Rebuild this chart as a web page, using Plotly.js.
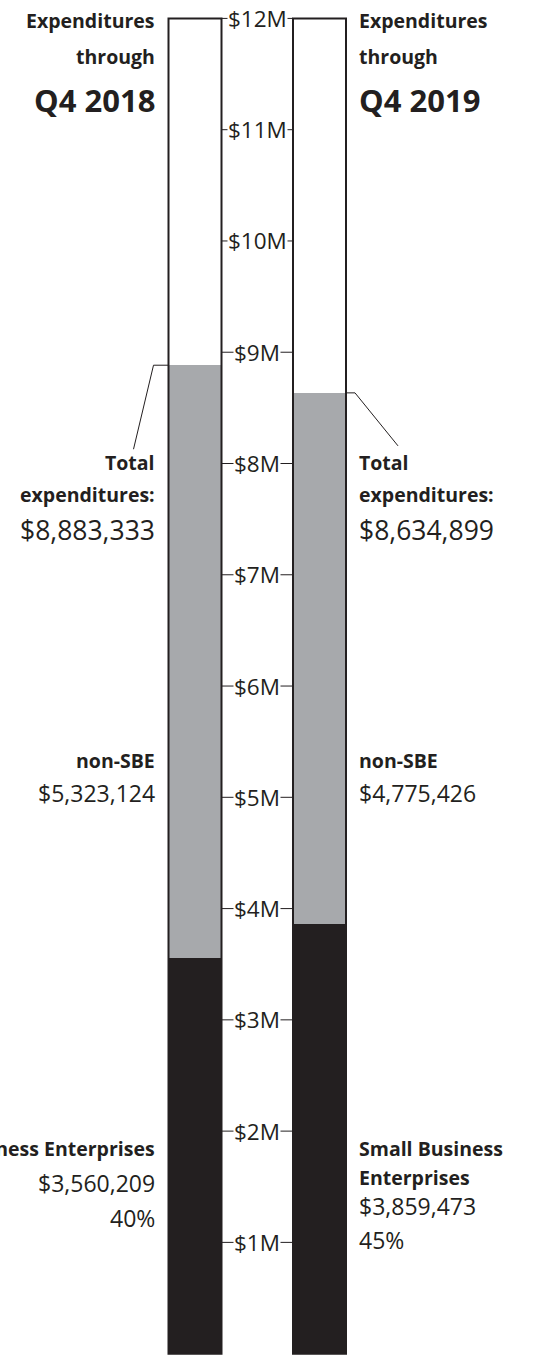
<!DOCTYPE html>
<html><head><meta charset="utf-8">
<script src="https://cdn.plot.ly/plotly-3.0.1.min.js"></script>
<style>html,body{margin:0;padding:0;background:#fff}#chart{width:545px;height:1357px}</style>
</head><body><div id="chart"></div>
<script>
// ---- data ----
const periods = ["Q4 2018", "Q4 2019"];
const sbeValues = [3560209, 3859473];
const nonSbeValues = [5323124, 4775426];
const totalValues = [8883333, 8634899];
const sbeShares = ["40%", "45%"];
const tickValues = [1, 2, 3, 4, 5, 6, 7, 8, 9, 10, 11, 12];
const tickLabels = ["$1M", "$2M", "$3M", "$4M", "$5M", "$6M", "$7M", "$8M", "$9M", "$10M", "$11M", "$12M"];

// ---- layout helpers ----
const W = 545, H = 1357;
const INK = "#231f20", GRAY = "#a7a9ac";
const FONT = "'Open Sans', 'Noto Sans', sans-serif";
const pxPerUnitX = 124.5, centerPx = 195;
const pxPerM = 111.27, yMin = -0.03, yMax = yMin + H / pxPerM;
const bw = 53 / pxPerUnitX;
const xs = periods.map((p, i) => i);
const M = v => v / 1e6;
const fmt = v => "$" + v.toLocaleString("en-US");
const px = x => x / W;
const py = y => 1 - y / H;
const axisTop = tickValues[tickValues.length - 1];

const traces = [
  {type: "bar", x: xs, y: sbeValues.map(M), width: bw, marker: {color: INK, line: {width: 0}}, hoverinfo: "skip"},
  {type: "bar", x: xs, y: nonSbeValues.map(M), width: bw, marker: {color: GRAY, line: {width: 0}}, hoverinfo: "skip"}
];

const shapes = [];
// gridlines between the two columns
tickValues.forEach(v => shapes.push({type: "line", xref: "x", yref: "y", x0: xs[0] + bw / 2, x1: xs[1] - bw / 2, y0: v, y1: v, line: {color: INK, width: 1}, layer: "below"}));
// column outlines
xs.forEach(i => shapes.push({type: "rect", xref: "x", yref: "y", x0: i - bw / 2, x1: i + bw / 2, y0: 0, y1: axisTop, line: {color: INK, width: 2}, fillcolor: "rgba(0,0,0,0)", layer: "above"}));
// leader lines to total labels
{
  const t0 = M(totalValues[0]);
  const xl = xs[0] - bw / 2;
  shapes.push({type: "path", xref: "x", yref: "y", path: `M ${xl} ${t0} L ${xl - 15 / pxPerUnitX} ${t0} L ${xl - 35 / pxPerUnitX} ${t0 - 84 / pxPerM}`, line: {color: INK, width: 1}, layer: "above"});
  const t1 = M(totalValues[1]);
  const xr = xs[1] + bw / 2;
  shapes.push({type: "path", xref: "x", yref: "y", path: `M ${xr} ${t1} L ${xr + 9 / pxPerUnitX} ${t1} L ${xr + 52 / pxPerUnitX} ${t1 - 53 / pxPerM}`, line: {color: INK, width: 1}, layer: "above"});
}

const annotations = [];
function txt(text, x, y, anchor, size, bold) {
  annotations.push({xref: "paper", yref: "paper", x: px(x), y: py(y), xanchor: anchor, yanchor: "middle",
    text: bold ? "<b>" + text + "</b>" : text, showarrow: false,
    font: {family: FONT, size: size, color: INK}});
}
// tick labels
tickValues.forEach((v, k) => annotations.push({xref: "x", yref: "y", x: (xs[0] + xs[1]) / 2, y: v, text: tickLabels[k], showarrow: false,
  bgcolor: "#ffffff", borderpad: 0, xanchor: "center", yanchor: "middle", font: {family: FONT, size: 22.5, color: INK}}));

const L = 157, R = 357;
const B = 19.5;
// headers
txt("Expenditures", L, 20, "right", B, true);
txt("through", L, 56, "right", B, true);
txt(periods[0], L, 100, "right", 31, true);
txt("Expenditures", R, 20, "left", B, true);
txt("through", R, 56, "left", B, true);
txt(periods[1], R, 100, "left", 31, true);
// totals
txt("Total", L, 462, "right", B, true);
txt("expenditures:", L, 495, "right", B, true);
txt(fmt(totalValues[0]), L, 530, "right", 26.5, false);
txt("Total", R, 462, "left", B, true);
txt("expenditures:", R, 495, "left", B, true);
txt(fmt(totalValues[1]), R, 530, "left", 26.5, false);
// non-SBE
txt("non-SBE", L, 760, "right", B, true);
txt(fmt(nonSbeValues[0]), L, 793, "right", 23, false);
txt("non-SBE", R, 760, "left", B, true);
txt(fmt(nonSbeValues[1]), R, 793, "left", 23, false);
// SBE
txt("Small Business Enterprises", L, 1148, "right", B, true);
txt(fmt(sbeValues[0]), L, 1183, "right", 23, false);
txt(sbeShares[0], L, 1218, "right", 23, false);
txt("Small Business", R, 1148, "left", B, true);
txt("Enterprises", R, 1177, "left", B, true);
txt(fmt(sbeValues[1]), R, 1206, "left", 23, false);
txt(sbeShares[1], R, 1240, "left", 23, false);

const layout = {
  width: W, height: H, margin: {l: 0, r: 0, t: 0, b: 0},
  paper_bgcolor: "#ffffff", plot_bgcolor: "#ffffff",
  barmode: "stack", bargap: 0, showlegend: false,
  xaxis: {type: "linear", range: [-centerPx / pxPerUnitX, (W - centerPx) / pxPerUnitX], visible: false, fixedrange: true},
  yaxis: {range: [yMin, yMax], visible: false, fixedrange: true},
  shapes: shapes, annotations: annotations
};
Plotly.newPlot("chart", traces, layout, {staticPlot: true, displayModeBar: false});
</script></body></html>
